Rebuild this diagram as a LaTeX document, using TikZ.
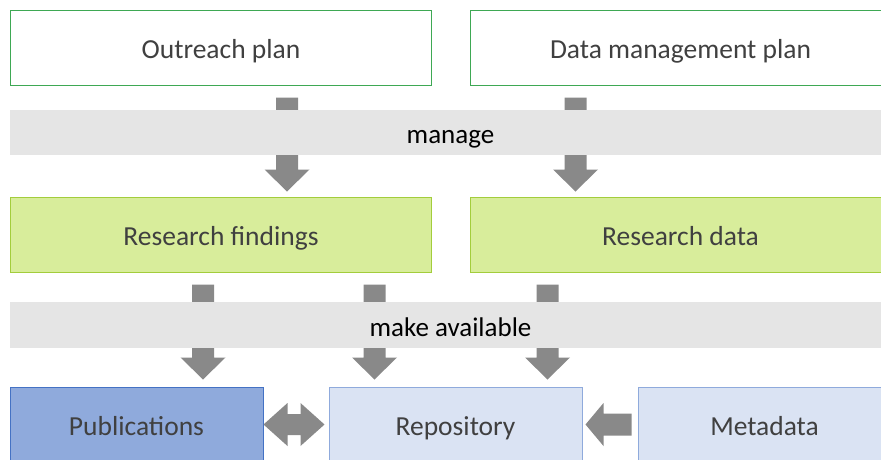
\documentclass[tikz,border=0pt]{standalone}
\usepackage{fontspec}
\setmainfont{Carlito}
\usetikzlibrary{calc}

\definecolor{plangreen}{RGB}{62,168,84}
\definecolor{findfill}{RGB}{216,237,155}
\definecolor{findline}{RGB}{163,205,60}
\definecolor{pubfill}{RGB}{143,170,220}
\definecolor{publine}{RGB}{68,114,196}
\definecolor{repofill}{RGB}{218,227,243}
\definecolor{repoline}{RGB}{143,170,220}
\definecolor{bandgray}{RGB}{229,229,229}
\definecolor{arrowgray}{RGB}{137,137,137}
\definecolor{labelgray}{RGB}{64,64,64}

\tikzset{
  box/.style={draw, line width=1pt, inner sep=0pt, minimum height=75pt,
    text=labelgray, text height=22pt, text depth=0pt,
    font=\fontsize{27.5}{32}\selectfont},
  planbox/.style={box, draw=plangreen, fill=white, minimum width=421pt},
  findbox/.style={box, draw=findline, fill=findfill, minimum width=421pt},
  pubbox/.style={box, draw=publine, fill=pubfill, minimum width=253pt},
  repobox/.style={box, draw=repoline, fill=repofill, minimum width=253pt},
  band/.style={fill=bandgray, inner sep=0pt, minimum width=881pt, minimum height=45pt,
    text height=22pt, text depth=0pt, font=\fontsize{27}{32}\selectfont}
}

% block arrows: start point, tip point
\newcommand{\downblock}[2]{%
  \fill[arrowgray] let \p1=#1, \p2=#2 in
    (\x1-11pt,\y1) -- (\x1+11pt,\y1) -- (\x1+11pt,\y2+22pt) -- (\x1+22.5pt,\y2+22pt)
    -- (\x1,\y2) -- (\x1-22.5pt,\y2+22pt) -- (\x1-11pt,\y2+22pt) -- cycle;}
\newcommand{\leftblock}[2]{%
  \fill[arrowgray] let \p1=#1, \p2=#2 in
    (\x1,\y1+11pt) -- (\x2+18pt,\y1+11pt) -- (\x2+18pt,\y1+21.5pt) -- (\x2,\y1)
    -- (\x2+18pt,\y1-21.5pt) -- (\x2+18pt,\y1-11pt) -- (\x1,\y1-11pt) -- cycle;}
\newcommand{\bothblock}[2]{%
  \fill[arrowgray] let \p1=#1, \p2=#2 in
    (\x1,\y1) -- (\x1+24pt,\y1+21.5pt) -- (\x1+24pt,\y1+10.5pt) -- (\x2-24pt,\y1+10.5pt)
    -- (\x2-24pt,\y1+21.5pt) -- (\x2,\y1) -- (\x2-24pt,\y1-21.5pt) -- (\x2-24pt,\y1-10.5pt)
    -- (\x1+24pt,\y1-10.5pt) -- (\x1+24pt,\y1-21.5pt) -- cycle;}

\begin{document}
\begin{tikzpicture}[x=1pt,y=-1pt]
    \useasboundingbox (0,0) rectangle (881,459);
    \clip (0,0) rectangle (881,459);

    % plans
    \node[planbox] (outreach) at (221,47.5) {Outreach plan};
    \node[planbox] (dmp) at (680.5,47.5) {Data management plan};

    % research output
    \node[findbox] (findings) at (221,234.5) {Research findings};
    \node[findbox] (rdata) at (680.5,234.5) {Research data};

    % where it ends up
    \node[pubbox] (pubs) at (136.5,424.5) {Publications};
    \node[repobox] (repo) at (455.5,424.5) {Repository};
    \node[repobox] (meta) at (764.5,424.5) {Metadata};

    \downblock{($(outreach.south)+(66,12)$)}{($(findings.north)+(66,-5)$)}
    \downblock{($(dmp.south)+(-105,12)$)}{($(rdata.north)+(-105,-5)$)}

    \downblock{($(findings.south)+(-18,12)$)}{($(pubs.north)+(66.5,-7)$)}
    \downblock{($(findings.south)+(153.5,12)$)}{($(repo.north)+(-81,-7)$)}
    \downblock{($(rdata.south)+(-133,12)$)}{($(repo.north)+(92,-7)$)}

    \bothblock{(pubs.east)}{($(repo.west)+(-4,0)$)}
    \leftblock{($(meta.west)+(-6,0)$)}{($(repo.east)+(3,0)$)}

    % the two bands go over the arrows
    \node[band] (manage) at (450.5,132.5) {manage};
    \node[band, minimum height=46pt] (avail) at (450.5,325) {make available};
\end{tikzpicture}
\end{document}
